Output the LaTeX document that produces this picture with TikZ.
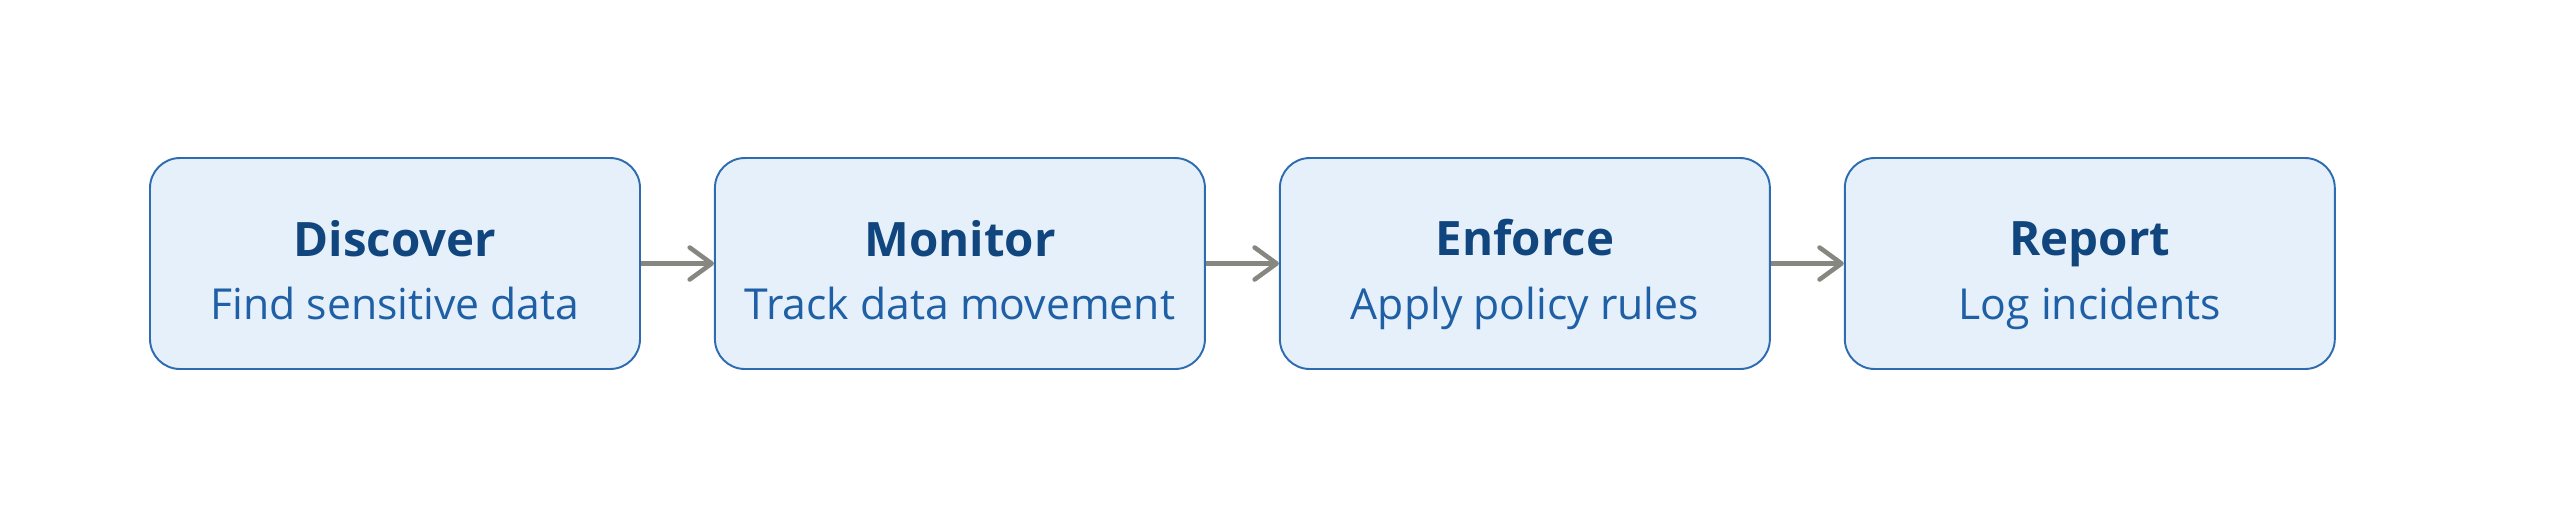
\documentclass[tikz,border=0pt]{standalone}
\usepackage{fontspec}
\setmainfont{Open Sans}
\usetikzlibrary{positioning, arrows.meta}

\definecolor{boxfill}{RGB}{230,240,250}
\definecolor{boxline}{RGB}{46,108,178}
\definecolor{titleblue}{RGB}{16,70,125}
\definecolor{subblue}{RGB}{30,95,165}
\definecolor{arrowgray}{RGB}{135,135,130}

\tikzset{
  stage/.style={draw=boxline, line width=0.55pt, fill=boxfill, rounded corners=0.3cm,
    minimum width=4.9cm, minimum height=2.11cm, align=center, inner sep=0pt,
    font=\fontsize{12}{18.2}\selectfont},
  flow/.style={draw=arrowgray, line width=1.3pt,
    -{Straight Barb[length=0.22cm, width=0.32cm, line width=1.3pt, round]}},
}
\newcommand{\stagetext}[2]{\rule{0pt}{0.59cm}{\fontsize{13.5}{16}\selectfont\bfseries\color{titleblue}#1}\\
  \rule[-0.1cm]{0pt}{0.1cm}{\fontsize{12.15}{14}\selectfont\color{subblue}#2}}

\begin{document}
\begin{tikzpicture}
  \useasboundingbox (0,0) rectangle (25.6,5.27);
  \node[stage] (discover) at (3.95,2.635) {\stagetext{Discover}{Find sensitive data}};
  \node[stage, right=0.73cm of discover] (monitor) {\stagetext{Monitor}{Track data movement}};
  \node[stage, right=0.73cm of monitor] (enforce) {\stagetext{Enforce}{Apply policy rules}};
  \node[stage, right=0.73cm of enforce] (report) {\stagetext{Report}{Log incidents}};
  % arrows between stages
  \draw[flow] (discover) -- (monitor);
  \draw[flow] (monitor) -- (enforce);
  \draw[flow] (enforce) -- (report);
\end{tikzpicture}
\end{document}
